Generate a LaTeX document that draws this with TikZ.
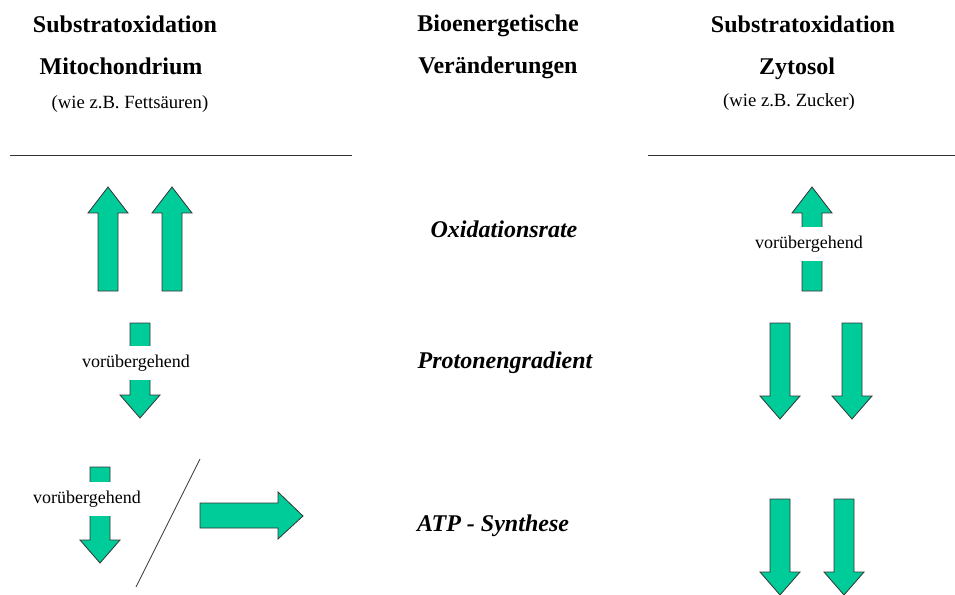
\documentclass[tikz,border=0pt]{standalone}
\usepackage{fontspec}
\setmainfont{Liberation Serif}
\usepackage{tikz}

\colorlet{arrowgreen}{rgb,255:red,0;green,204;blue,153}

\tikzset{
    blockarrow/.style={fill=arrowgreen, draw=black!80, line width=0.6pt},
    headtext/.style={anchor=base, font=\fontsize{18}{22}\selectfont\bfseries},
    subtext/.style={anchor=base, font=\fontsize{14}{17}\selectfont},
    ratetext/.style={anchor=base, font=\fontsize{18}{22}\selectfont\bfseries\itshape},
    transient/.style={fill=white, inner xsep=0pt, inner ysep=0pt, minimum height=25pt,
        font=\fontsize{13.5}{16}\selectfont}
}

\begin{document}
\begin{tikzpicture}[x=0.75pt, y=-0.75pt]
    \useasboundingbox (0,0) rectangle (955,595);

    % Column headings
    \node[headtext] (mitoA) at (125,33) {Substratoxidation};
    \node[headtext] (mitoB) at (121,75) {Mitochondrium};
    \node[subtext]  (mitoC) at (130,109) {(wie z.B. Fettsäuren)};
    \node[headtext] (bioA) at (498,32) {Bioenergetische};
    \node[headtext] (bioB) at (498,74) {Veränderungen};
    \node[headtext] (zytoA) at (803,33) {Substratoxidation};
    \node[headtext] (zytoB) at (797,75) {Zytosol};
    \node[subtext]  (zytoC) at (789,107) {(wie z.B. Zucker)};

    % Rules under the headings
    \draw[black!80, line width=0.6pt] (10,155) -- (352,155);
    \draw[black!80, line width=0.6pt] (648,155) -- (955,155);

    % Row labels
    \node[ratetext] (oxrate) at (504,238) {Oxidationsrate};
    \node[ratetext] (proton) at (505,368) {Protonengradient};
    \node[ratetext] (atp) at (493,531) {ATP - Synthese};

    % Up arrows: centre x / tip y / bottom y
    \foreach \cx/\tip/\bot in {108/187/291, 172/187/291, 812/187/291} {
        \draw[blockarrow] (\cx-10,\bot) -- (\cx-10,\tip+26) -- (\cx-20,\tip+26) -- (\cx,\tip)
            -- (\cx+20,\tip+26) -- (\cx+10,\tip+26) -- (\cx+10,\bot) -- cycle;
    }

    % Down arrows: centre x / top y / tip y
    \foreach \cx/\top/\tip in {140/323/418, 100/467/563, 780/323/419, 852/323/419, 780/499/595, 844/499/595} {
        \draw[blockarrow] (\cx-10,\top) -- (\cx-10,\tip-23) -- (\cx-20,\tip-23) -- (\cx,\tip)
            -- (\cx+20,\tip-23) -- (\cx+10,\tip-23) -- (\cx+10,\top) -- cycle;
    }

    % Transient labels over the arrow shafts
    \node[transient] (transB) at (136,363) {vorübergehend};
    \node[transient] (transC) at (87,499) {vorübergehend};
    \node[transient] (transA) at (809,244) {vorübergehend};

    % Alternative: slash and sideways arrow
    \draw[black!80, line width=0.6pt] (200,459) -- (136,587);
    \draw[blockarrow] (200,503) -- (278,503) -- (278,492) -- (303,516)
        -- (278,539) -- (278,528) -- (200,528) -- cycle;
\end{tikzpicture}
\end{document}
